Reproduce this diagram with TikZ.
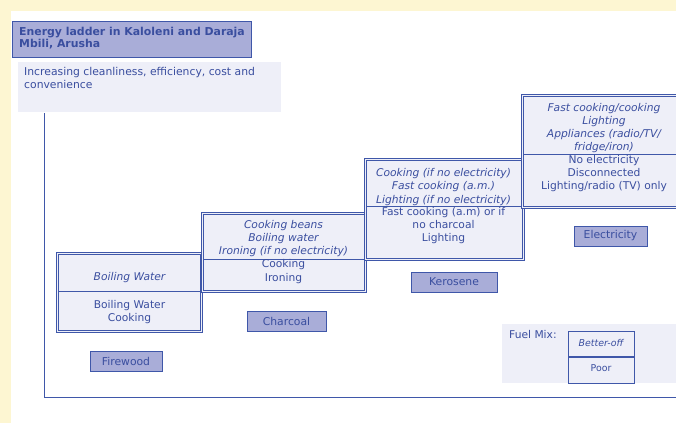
\documentclass[tikz,border=0pt]{standalone}
\usepackage{fontspec}
\setmainfont{DejaVu Sans}
\definecolor{cream}{HTML}{FDF6D2}
\definecolor{ink}{HTML}{3A4E9F}
\definecolor{edge}{HTML}{3F57A9}
\definecolor{panel}{HTML}{EEEFF8}
\definecolor{tagfill}{HTML}{A9ADD8}
\tikzset{
  use/.style={fill=panel, draw=edge, line width=0.8pt},
  useline/.style={draw=edge, line width=0.8pt},
  txt/.style={text=ink, font=\fontsize{10.7}{13.2}\selectfont, align=center, inner sep=0pt},
  fuel/.style={fill=tagfill, draw=edge, line width=0.9pt, text=ink, font=\fontsize{10.8}{12}\selectfont,
    minimum height=20pt, inner sep=0pt}
}
% riquadro con bordo doppio
\newcommand{\rungbox}[2]{%
  \draw[use] (#1) rectangle (#2);
  \draw[useline] ([shift={(2,2)}]#1) rectangle ([shift={(-2,-2)}]#2);}
\begin{document}
\begin{tikzpicture}[x=1pt,y=-1pt]
    \useasboundingbox (0,0) rectangle (676,423);
    % fondo
    \fill[cream] (0,0) rectangle (676,423);
    \fill[white] (11,11) rectangle (676,423);

    % titolo e sottotitolo
    \draw[fill=tagfill, draw=edge, line width=0.9pt] (12,21) rectangle (251,57);
    \node[anchor=north west, text=ink, font=\bfseries\fontsize{10.9}{12}\selectfont, align=left, inner sep=0pt]
      (title) at (19,27) {Energy ladder in Kaloleni and Daraja\\Mbili, Arusha};
    \fill[panel] (18,62) rectangle (281,112);
    \node[anchor=north west, txt, align=left, font=\fontsize{10.8}{13}\selectfont]
      (subtitle) at (24,67.5) {Increasing cleanliness, efficiency, cost and\\convenience};

    % assi
    \draw[edge, line width=0.8pt] (44,113) -- (44,397) -- (677,397);

    % legna
    \rungbox{56,252}{202,332}
    \draw[useline] (58,291) -- (200,291);
    \node[txt, font=\itshape\fontsize{10.7}{13.2}\selectfont] (fwBetter) at (129.5,278) {Boiling Water};
    \node[txt] (fwPoor) at (129.5,312) {Boiling Water\\Cooking};
    \node[fuel, minimum width=72pt] (firewood) at (126,361) {Firewood};

    % carbone
    \rungbox{201,212}{366,292}
    \draw[useline] (203,259) -- (364,259);
    \node[txt, font=\itshape\fontsize{10.7}{13.2}\selectfont] (chBetter) at (283.5,238.5)
      {Cooking beans\\Boiling water\\Ironing (if no electricity)};
    \node[txt, anchor=north] (chPoor) at (283.5,259.5) {Cooking\\Ironing};
    \node[fuel, minimum width=79pt] (charcoal) at (286.5,321) {Charcoal};

    % cherosene
    \rungbox{364,158}{524,260}
    \draw[useline] (366,206) -- (522,206);
    \node[txt, font=\itshape\fontsize{10.7}{13.2}\selectfont] (keBetter) at (443.5,187)
      {Cooking (if no electricity)\\Fast cooking (a.m.)\\Lighting (if no electricity)};
    \node[txt, anchor=north] (kePoor) at (443.5,207)
      {Fast cooking (a.m) or if\\no charcoal\\Lighting};
    \node[fuel, minimum width=86pt] (kerosene) at (454,282) {Kerosene};

    % elettricità
    \rungbox{521,94}{682,208}
    \draw[useline] (523,154) -- (680,154);
    \node[txt, font=\itshape\fontsize{10.7}{13.2}\selectfont] (elBetter) at (604,128)
      {Fast cooking/cooking\\Lighting\\Appliances (radio/TV/\\fridge/iron)};
    \node[txt, anchor=north] (elPoor) at (604,155)
      {No electricity\\Disconnected\\Lighting/radio (TV) only};
    \node[fuel, minimum width=73pt] (electricity) at (610.5,236) {Electricity};

    % legenda
    \fill[panel] (502,324) rectangle (677,383);
    \node[txt, anchor=north west] (mixLabel) at (509,330) {Fuel Mix:};
    \draw[edge, line width=0.8pt] (568,331) rectangle (634,383);
    \draw[edge, line width=1.2pt] (568,357) -- (634,357);
    \node[txt, font=\itshape\fontsize{9.4}{11}\selectfont] (mixBetter) at (601,343) {Better-off};
    \node[txt, font=\fontsize{9.4}{11}\selectfont] (mixPoor) at (601,368) {Poor};
\end{tikzpicture}
\end{document}
